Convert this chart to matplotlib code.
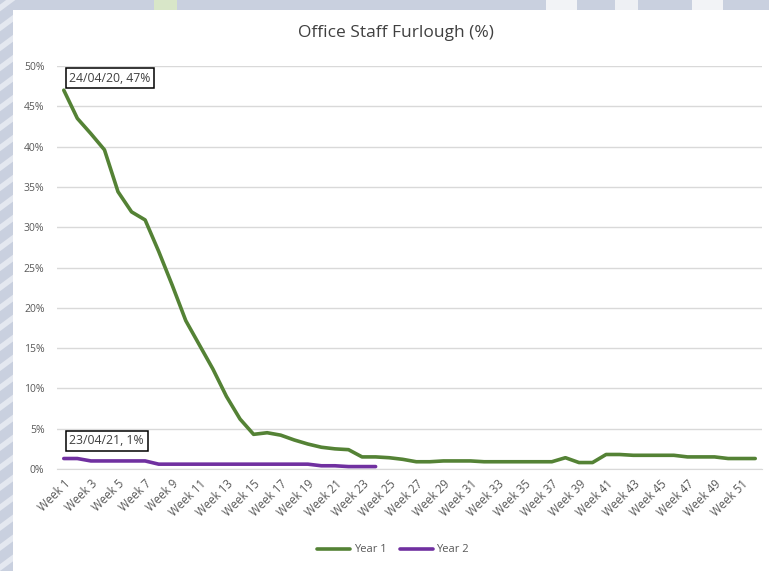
import matplotlib
matplotlib.use("Agg")
import matplotlib.pyplot as plt
from matplotlib.patches import Rectangle, Polygon
from matplotlib.ticker import FuncFormatter

weeks = [f"Week {i}" for i in range(1, 53)]
year1 = [47.0, 43.5, 41.6, 39.6, 34.4, 31.9, 30.9, 27.0, 22.8, 18.4,
         15.4, 12.4, 9.0, 6.2, 4.3, 4.5, 4.2, 3.6, 3.1, 2.7,
         2.5, 2.4, 1.5, 1.5, 1.4, 1.2, 0.9, 0.9, 1.0, 1.0,
         1.0, 0.9, 0.9, 0.9, 0.9, 0.9, 0.9, 1.4, 0.8, 0.8,
         1.8, 1.8, 1.7, 1.7, 1.7, 1.7, 1.5, 1.5, 1.5, 1.3,
         1.3, 1.3]
year2 = [1.3, 1.3, 1.0, 1.0, 1.0, 1.0, 1.0, 0.6, 0.6, 0.6,
         0.6, 0.6, 0.6, 0.6, 0.6, 0.6, 0.6, 0.6, 0.6, 0.4,
         0.4, 0.3, 0.3, 0.3]
labels = {"Year 1": "24/04/20", "Year 2": "23/04/21"}

green = "#548235"
purple = "#7030a0"
grey_txt = "#595959"
font = "Open Sans"

fig = plt.figure(figsize=(7.69, 5.71), dpi=100)
fig.patch.set_facecolor("#c9d0df")

# light diagonal stripes on the backdrop
for k in range(-6, 40):
    y0 = k * 0.035
    fig.patches.append(Polygon([[0, y0], [0.02, y0 + 0.02], [0.02, y0 + 0.032], [0, y0 + 0.012]],
                               closed=True, transform=fig.transFigure,
                               facecolor="#e4e8f0", edgecolor="none", zorder=0))
for x0, w, c in [(0.2, 0.03, "#d8e6c8"), (0.71, 0.04, "#f2f3f6"), (0.8, 0.03, "#eef0f4"),
                 (0.9, 0.04, "#f2f3f6")]:
    fig.patches.append(Rectangle((x0, 0.983), w, 0.017, transform=fig.transFigure,
                                 facecolor=c, edgecolor="none", zorder=0))

# white chart area
fig.patches.append(Rectangle((13 / 769, 0), 1 - 13 / 769, 1 - 10 / 571,
                             transform=fig.transFigure, facecolor="white",
                             edgecolor="none", zorder=1))

ax = fig.add_axes([57 / 769, 102 / 571, 705 / 769, 403 / 571])
ax.set_facecolor("none")
ax.set_zorder(2)

x1 = list(range(len(year1)))
x2 = list(range(len(year2)))
ax.plot(x1, year1, color=green, lw=2.6, solid_capstyle="round", solid_joinstyle="round",
        label="Year 1", zorder=3)
ax.plot(x2, year2, color=purple, lw=2.6, solid_capstyle="round", solid_joinstyle="round",
        label="Year 2", zorder=3)

ax.set_xlim(-0.5, len(weeks) - 0.5)
ax.set_ylim(0, 50)
ax.set_yticks(range(0, 51, 5))
ax.yaxis.set_major_formatter(FuncFormatter(lambda v, p: f"{v:.0f}%"))
ax.grid(axis="y", color="#d9d9d9", lw=1)
ax.set_axisbelow(True)
for s in ["top", "right", "left"]:
    ax.spines[s].set_visible(False)
ax.spines["bottom"].set_color("#d9d9d9")
ax.tick_params(axis="y", length=0, labelsize=7.5, labelcolor=grey_txt, pad=9)

ax.set_xticks(x1[::2])
ax.set_xticklabels(weeks[::2], rotation=45, ha="right", rotation_mode="anchor",
                   fontsize=8.3, color=grey_txt, family=font)
ax.tick_params(axis="x", length=0, pad=6)
for t in ax.get_yticklabels():
    t.set_family(font)

box = dict(boxstyle="square,pad=0.3", fc="white", ec="black", lw=1.1)
ax.annotate(f"{labels['Year 1']}, {year1[0]:.0f}%", (x1[0], year1[0]),
            xytext=(4, 4), textcoords="offset points", fontsize=8.8, family=font,
            color="#404040", bbox=box, va="bottom", ha="left", zorder=5)
ax.annotate(f"{labels['Year 2']}, {year2[0]:.0f}%", (x2[0], year2[0]),
            xytext=(4, 8), textcoords="offset points", fontsize=8.8, family=font,
            color="#404040", bbox=box, va="bottom", ha="left", zorder=5)

fig.text(396 / 769, 1 - 33 / 571, "Office Staff Furlough (%)", ha="center", va="center",
         fontsize=12.5, color="#404040", family=font, zorder=3)

leg = fig.legend(loc="center", bbox_to_anchor=(393 / 769, 1 - 550 / 571), ncol=2,
                 frameon=False, handlelength=3, columnspacing=1.2,
                 handletextpad=0.3, prop={"family": font, "size": 8})
for t in leg.get_texts():
    t.set_color(grey_txt)

fig.savefig("out.png", dpi=100, facecolor=fig.get_facecolor())
